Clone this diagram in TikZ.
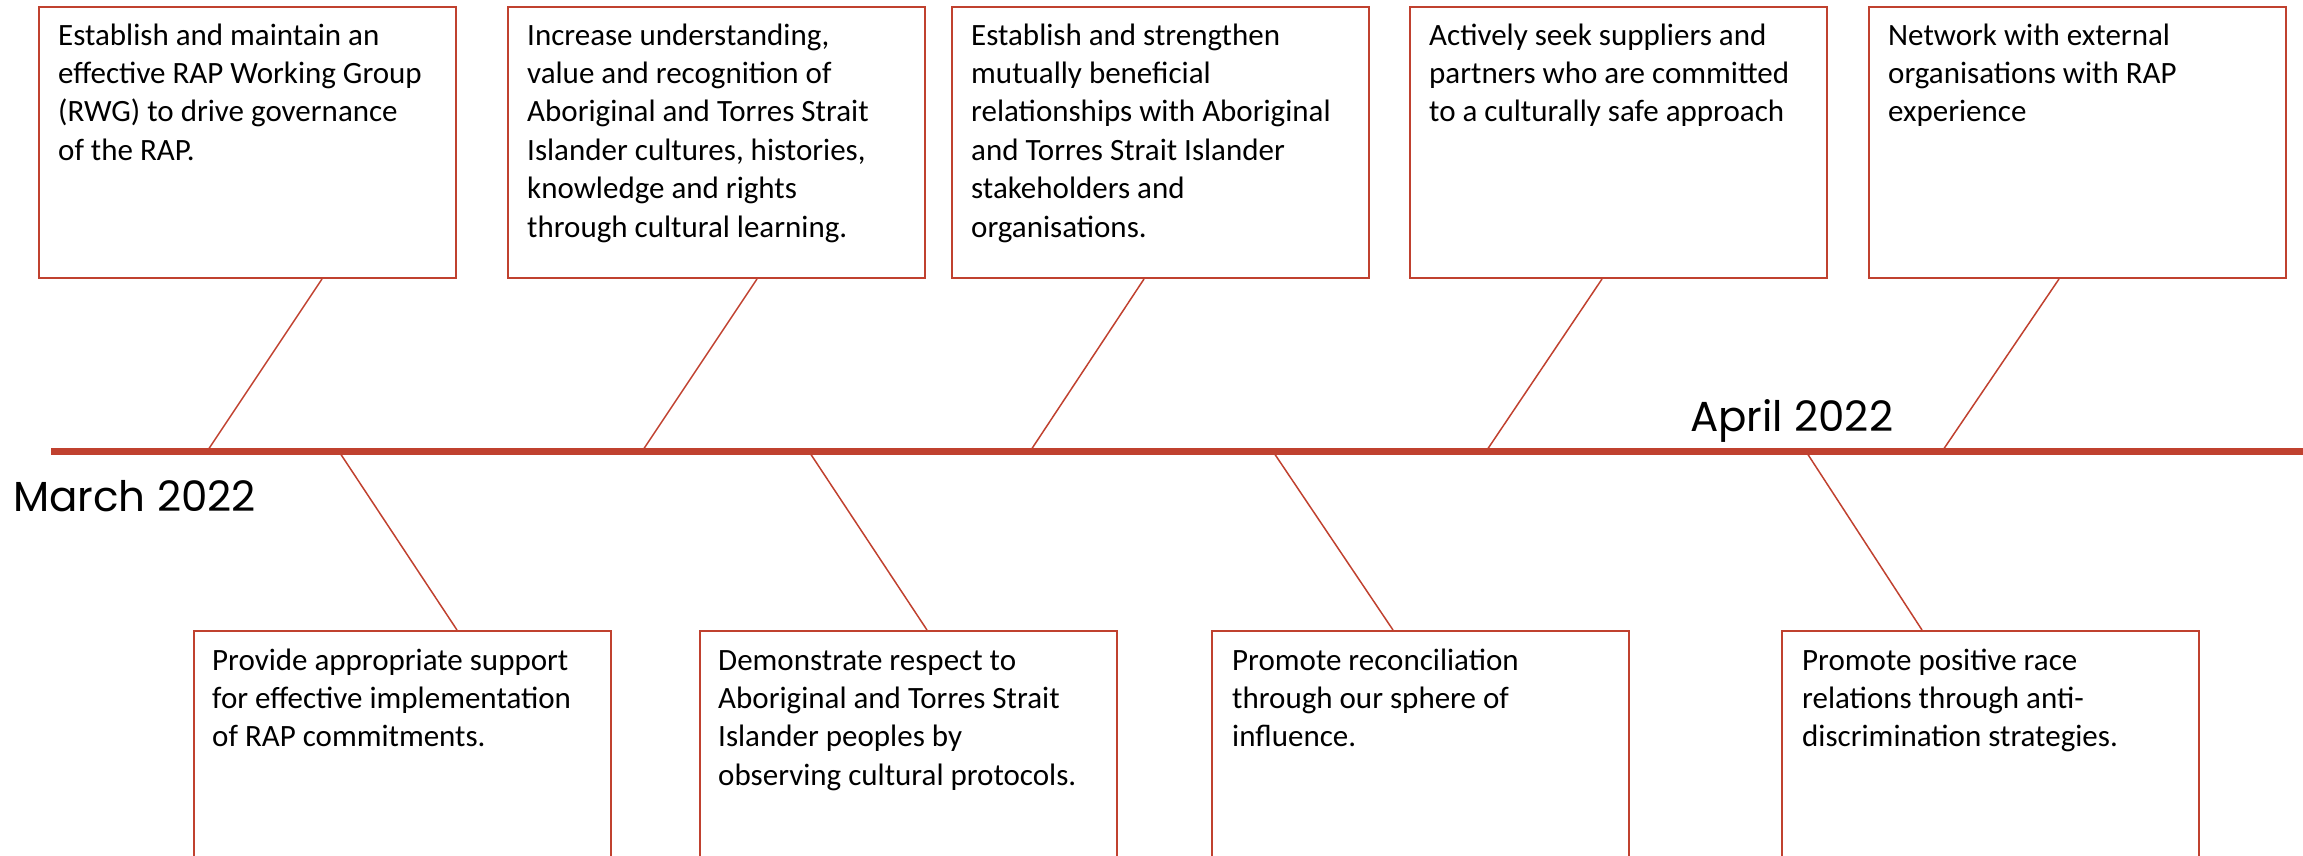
\documentclass[tikz,border=0pt]{standalone}
\usepackage{fontspec}
\setmainfont{Carlito}
\newfontfamily\datefont{Poppins}
\usetikzlibrary{calc}
\definecolor{rapred}{HTML}{C0412F}
\tikzset{
  box/.style={draw=rapred, line width=2pt, minimum width=417pt, inner sep=0pt, anchor=north west, rectangle},
  topbox/.style={box, minimum height=271pt},
  botbox/.style={box, minimum height=300pt},
  boxtext/.style={anchor=base west, inner sep=0pt, font=\fontsize{31}{38.4}\selectfont},
  spoke/.style={draw=rapred, line width=1.5pt},
  spine/.style={draw=rapred, line width=7pt},
  datelabel/.style={anchor=base west, inner sep=0pt, font=\datefont\fontsize{42}{48}\selectfont},
}
\newcommand{\boxlines}[1]{\parbox[t]{400pt}{\raggedright #1}}
\begin{document}
\begin{tikzpicture}[x=1pt,y=-1pt]
\useasboundingbox (0,0) rectangle (2303,855);
\clip (0,0) rectangle (2303,855);

% top boxes
\node[topbox] (b1) at (38,6) {};
\node[topbox] (b2) at (507,6) {};
\node[topbox] (b3) at (951,6) {};
\node[topbox] (b4) at (1409,6) {};
\node[topbox] (b5) at (1868,6) {};
% bottom boxes
\node[botbox] (bA) at (193,630) {};
\node[botbox] (bB) at (699,630) {};
\node[botbox] (bC) at (1211,630) {};
\node[botbox] (bD) at (1781,630) {};

% texts
\node[boxtext] (t1) at ($(b1.north west)+(20,39)$) {\boxlines{Establish and maintain an\\effective RAP Working Group\\(RWG) to drive governance\\of the RAP.}};
\node[boxtext] (t2) at ($(b2.north west)+(20,39)$) {\boxlines{Increase understanding,\\value and recognition of\\Aboriginal and Torres Strait\\Islander cultures, histories,\\knowledge and rights\\through cultural learning.}};
\node[boxtext] (t3) at ($(b3.north west)+(20,39)$) {\boxlines{Establish and strengthen\\mutually beneficial\\relationships with Aboriginal\\and Torres Strait Islander\\stakeholders and\\organisations.}};
\node[boxtext] (t4) at ($(b4.north west)+(20,39)$) {\boxlines{Actively seek suppliers and\\partners who are committed\\to a culturally safe approach}};
\node[boxtext] (t5) at ($(b5.north west)+(20,39)$) {\boxlines{Network with external\\organisations with RAP\\experience}};
\node[boxtext] (tA) at ($(bA.north west)+(19,40)$) {\boxlines{Provide appropriate support\\for effective implementation\\of RAP commitments.}};
\node[boxtext] (tB) at ($(bB.north west)+(19,40)$) {\boxlines{Demonstrate respect to\\Aboriginal and Torres Strait\\Islander peoples by\\observing cultural protocols.}};
\node[boxtext] (tC) at ($(bC.north west)+(21,40)$) {\boxlines{Promote reconciliation\\through our sphere of\\influence.}};
\node[boxtext] (tD) at ($(bD.north west)+(21,40)$) {\boxlines{Promote positive race\\relations through anti-\\discrimination strategies.}};

% spine coordinates
\coordinate (sL) at (51,451.5);
\coordinate (sR) at (2310,451.5);
\coordinate (s1) at (207,451.5);
\coordinate (s2) at (642,451.5);
\coordinate (s3) at (1030,451.5);
\coordinate (s4) at (1486,451.5);
\coordinate (s5) at (1942,451.5);
\coordinate (sA) at (339,451.5);
\coordinate (sB) at (809,451.5);
\coordinate (sC) at (1273,451.5);
\coordinate (sD) at (1806,451.5);

% spokes
\draw[spoke] ($(b1.south west)+(284,0)$) -- (s1);
\draw[spoke] ($(b2.south west)+(250,0)$) -- (s2);
\draw[spoke] ($(b3.south west)+(193,0)$) -- (s3);
\draw[spoke] ($(b4.south west)+(193,0)$) -- (s4);
\draw[spoke] ($(b5.south west)+(191,0)$) -- (s5);
\draw[spoke] (sA) -- ($(bA.north west)+(264,0)$);
\draw[spoke] (sB) -- ($(bB.north west)+(228,0)$);
\draw[spoke] (sC) -- ($(bC.north west)+(182,0)$);
\draw[spoke] (sD) -- ($(bD.north west)+(141,0)$);

% spine
\draw[spine] (sL) -- (sR);

% dates
\node[datelabel] (march) at (13,511) {March 2022};
\node[datelabel] (april) at (1690,431) {April 2022};
\end{tikzpicture}
\end{document}
